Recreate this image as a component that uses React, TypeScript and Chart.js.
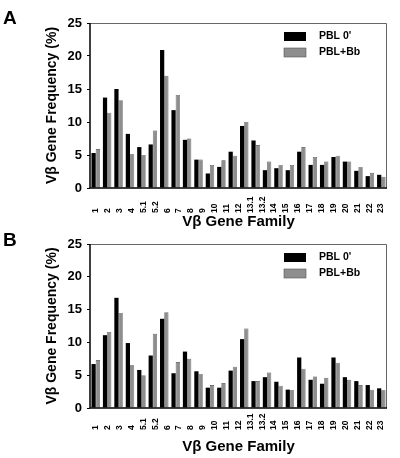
import React, { useEffect, useRef } from 'react';
import { Chart, registerables } from 'chart.js';

Chart.register(...registerables);

const FONT = '"Liberation Sans", Arial, Helvetica, sans-serif';

// Vβ gene family tick labels (as printed on the x axis)
const geneFamilies = ['1', '2', '3', '4', '5.1', '5.2', '6', '7', '8', '9', '10', '11', '12', '13.1', '13.2', '14', '15', '16', '17', '18', '19', '20', '21', '22', '23'];

const seriesNames = ["PBL 0'", 'PBL+Bb'];
const yTitle = 'Vβ Gene Frequency (%)';
const xTitle = 'Vβ Gene Family';

// Panel A values (%)
const panelA_PBL0 = [5.3, 13.7, 15.0, 8.2, 6.2, 6.6, 20.9, 11.8, 7.3, 4.3, 2.2, 3.2, 5.5, 9.4, 7.2, 2.7, 3.0, 2.7, 5.5, 3.5, 3.5, 4.7, 4.0, 2.6, 1.8, 2.0];
const panelA_PBLBb = [5.9, 11.4, 13.3, 5.1, 5.0, 8.7, 17.0, 14.1, 7.5, 4.3, 3.5, 4.2, 4.9, 10.0, 6.5, 4.0, 3.5, 3.5, 6.2, 4.7, 4.0, 4.9, 4.0, 3.2, 2.3, 1.7];

// Panel B values (%)
const panelB_PBL0 = [6.7, 11.1, 16.8, 9.9, 5.8, 8.0, 13.6, 5.3, 8.6, 5.6, 3.1, 3.1, 5.7, 10.5, 4.1, 4.7, 4.0, 2.8, 7.7, 4.3, 3.7, 7.7, 4.7, 4.1, 3.5, 3.0];
const panelB_PBLBb = [7.3, 11.6, 14.5, 6.5, 5.0, 11.3, 14.6, 7.0, 7.5, 5.2, 3.5, 3.8, 6.3, 12.1, 4.1, 5.4, 3.4, 2.7, 6.0, 4.8, 4.6, 6.9, 4.3, 3.5, 2.8, 2.7];

const yTicks = { min: 0, max: 25, step: 5 };

type PanelProps = {
  letter: string;
  pbl0: number[];
  pblBb: number[];
  top: number;
  height: number;
  chartTop: number;
  chartBottom: number;
  labelOffset: number;
  letterBaseline: number;
};

function Panel(props: PanelProps) {
  const ref = useRef<HTMLCanvasElement>(null);
  useEffect(() => {
    const canvas = ref.current!;
    const { letter, pbl0, pblBb, height, chartTop, chartBottom, labelOffset, letterBaseline } = props;
    const slots = pbl0.map((_, i) => String(i + 1));

    const decor = {
      id: 'decor',
      afterDraw(chart: any) {
        const { ctx, chartArea: a } = chart;
        ctx.save();
        // frame
        ctx.strokeStyle = '#666';
        ctx.lineWidth = 1;
        ctx.beginPath();
        ctx.moveTo(a.left, a.top + 0.5);
        ctx.lineTo(a.right - 0.5, a.top + 0.5);
        ctx.lineTo(a.right - 0.5, a.bottom);
        ctx.stroke();
        ctx.strokeStyle = '#000';
        ctx.lineWidth = 1.5;
        ctx.beginPath();
        ctx.moveTo(a.left, a.top);
        ctx.lineTo(a.left, a.bottom);
        ctx.lineTo(a.right, a.bottom);
        ctx.stroke();

        // x tick labels (rotated, bottom-aligned)
        const s = chart.scales.x2;
        const labels = s.getLabels();
        ctx.fillStyle = '#000';
        ctx.font = `bold 8.5px ${FONT}`;
        ctx.textAlign = 'left';
        ctx.textBaseline = 'middle';
        labels.forEach((lab: string, i: number) => {
          const x = s.getPixelForValue(i);
          ctx.save();
          ctx.translate(x, a.bottom + labelOffset);
          ctx.rotate(-Math.PI / 2);
          ctx.fillText(lab, 0, 0);
          ctx.restore();
        });

        // legend
        const ds = chart.data.datasets;
        ctx.font = `bold 10.5px ${FONT}`;
        ds.forEach((d: any, i: number) => {
          const by = a.top + 9 + i * 16;
          ctx.fillStyle = d.backgroundColor;
          ctx.fillRect(284, by, 22, 9);
          if (i === 1) {
            ctx.strokeStyle = '#555';
            ctx.lineWidth = 0.6;
            ctx.strokeRect(284, by, 22, 9);
          }
          ctx.fillStyle = '#000';
          ctx.textAlign = 'left';
          ctx.textBaseline = 'middle';
          ctx.fillText(d.label, 319, by + 4.5);
        });

        // panel letter
        ctx.font = `bold 19px ${FONT}`;
        ctx.textBaseline = 'alphabetic';
        ctx.fillText(letter, 3, letterBaseline);
        ctx.restore();
      },
    };

    const chart = new Chart(canvas, {
      type: 'bar',
      data: {
        labels: slots,
        datasets: [
          {
            label: seriesNames[0],
            data: pbl0,
            backgroundColor: '#000',
            borderWidth: 0,
            categoryPercentage: 0.74,
            barPercentage: 1.0,
          },
          {
            label: seriesNames[1],
            data: pblBb,
            backgroundColor: '#8e8e8e',
            borderColor: '#444',
            borderWidth: 0.6,
            categoryPercentage: 0.74,
            barPercentage: 1.0,
          },
        ],
      },
      options: {
        responsive: false,
        animation: false,
        events: [],
        layout: { padding: { top: chartTop, right: 13, left: 0, bottom: 0 } },
        plugins: { legend: { display: false }, tooltip: { enabled: false } },
        scales: {
          x: { display: false, offset: true },
          x2: {
            type: 'category',
            labels: geneFamilies,
            position: 'bottom',
            offset: true,
            grid: { display: false },
            border: { display: false },
            ticks: { display: false },
            title: {
              display: true,
              text: xTitle,
              color: '#000',
              font: { family: FONT, size: 15, weight: 'bold' },
              padding: { top: 0, bottom: 0 },
            },
            afterFit: (s: any) => {
              s.height = height - chartBottom;
            },
          },
          y: {
            min: yTicks.min,
            max: yTicks.max,
            ticks: {
              stepSize: yTicks.step,
              color: '#000',
              padding: 5,
              font: { family: FONT, size: 13, weight: 'bold' },
            },
            grid: { drawOnChartArea: false, drawTicks: true, tickLength: 3, color: '#000', lineWidth: 1 },
            border: { display: false },
            title: {
              display: true,
              text: yTitle,
              color: '#000',
              font: { family: FONT, size: 14, weight: 'bold' },
              padding: { top: 44, bottom: 0 },
            },
            afterFit: (s: any) => {
              s.width = 90;
            },
          },
        },
      } as any,
      plugins: [decor],
    });
    return () => chart.destroy();
  }, []);

  return (
    <canvas
      ref={ref}
      width={400}
      height={props.height}
      style={{ position: 'absolute', left: 0, top: props.top, width: 400, height: props.height }}
    />
  );
}

export default function App() {
  return (
    <div style={{ position: 'absolute', left: 0, top: 0, width: 400, height: 458, background: '#fff' }}>
      <Panel letter="A" pbl0={panelA_PBL0} pblBb={panelA_PBLBb} top={0} height={231} chartTop={23} chartBottom={188} labelOffset={25} letterBaseline={24} />
      <Panel letter="B" pbl0={panelB_PBL0} pblBb={panelB_PBLBb} top={229} height={227} chartTop={15} chartBottom={179} labelOffset={22} letterBaseline={17} />
    </div>
  );
}
